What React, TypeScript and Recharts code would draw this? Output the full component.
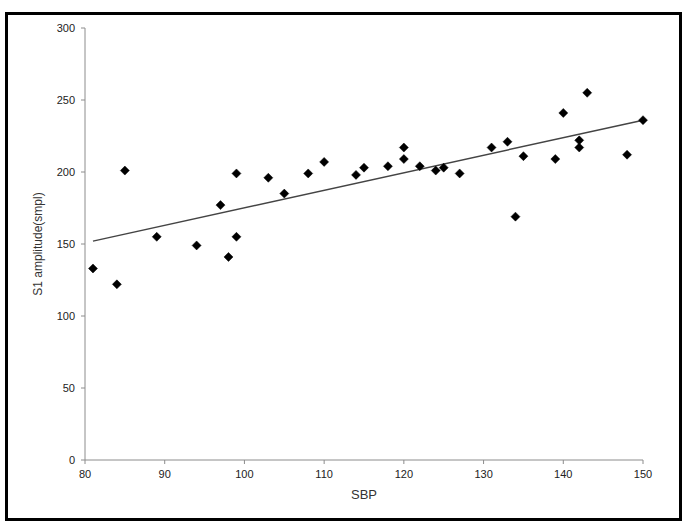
import React from "react";
import { ScatterChart, Scatter, XAxis, YAxis, Label } from "recharts";

const sbp = [81, 84, 85, 89, 94, 97, 98, 99, 99, 103, 105, 108, 110, 114, 115, 118, 120, 120, 122, 124, 125, 127, 131, 133, 134, 135, 139, 140, 142, 142, 143, 148, 150];
const amplitude = [133, 122, 201, 155, 149, 177, 141, 199, 155, 196, 185, 199, 207, 198, 203, 204, 217, 209, 204, 201, 203, 199, 217, 221, 169, 211, 209, 241, 222, 217, 255, 212, 236];
const trendX = [81, 150];
const trendY = [152, 236];
const xTicks = [80, 90, 100, 110, 120, 130, 140, 150];
const yTicks = [0, 50, 100, 150, 200, 250, 300];

const points = sbp.map((x, i) => ({ x, y: amplitude[i] }));
const trend = trendX.map((x, i) => ({ x, y: trendY[i] }));

const Diamond = (props: any) => {
  const { cx, cy } = props;
  if (cx == null || cy == null) return <g />;
  const r = 4.5;
  return (
    <polygon
      points={`${cx},${cy - r} ${cx + r},${cy} ${cx},${cy + r} ${cx - r},${cy}`}
      fill="#000"
      stroke="#000"
      strokeWidth={0.5}
      strokeLinejoin="round"
    />
  );
};

const Empty = () => <g />;

const tickStyle = { fontSize: 11, fill: "#222", fontFamily: "Liberation Sans, Arial, sans-serif" };

export default function App() {
  return (
    <div style={{ position: "absolute", left: 0, top: 0, width: 690, height: 525, background: "#fff" }}>
      <div
        style={{
          position: "absolute",
          left: 5,
          top: 12,
          width: 671,
          height: 503,
          border: "3px solid #000",
        }}
      />
      <div style={{ position: "absolute", left: 0, top: 0 }}>
        <ScatterChart width={690} height={525} margin={{ top: 28, right: 47, bottom: 0, left: 0 }}>
          <XAxis
            type="number"
            dataKey="x"
            domain={[80, 150]}
            ticks={xTicks}
            height={65}
            stroke="#8c8c8c"
            tickSize={4}
            tickMargin={6}
            tick={tickStyle}
          >
            <Label
              value="SBP"
              position="insideBottom"
              offset={26}
              style={{ fontSize: 13, fill: "#333", fontFamily: "Liberation Sans, Arial, sans-serif" }}
            />
          </XAxis>
          <YAxis
            type="number"
            dataKey="y"
            domain={[0, 300]}
            ticks={yTicks}
            width={85}
            stroke="#8c8c8c"
            tickSize={4}
            tickMargin={6}
            tick={tickStyle}
          >
            <Label
              value="S1 amplitude(smpl)"
              angle={-90}
              position="insideLeft"
              offset={38}
              style={{ textAnchor: "middle", fontSize: 12, fill: "#333", fontFamily: "Liberation Sans, Arial, sans-serif" }}
            />
          </YAxis>
          <Scatter
            data={trend}
            line={{ stroke: "#444", strokeWidth: 1.5 }}
            shape={Empty}
            isAnimationActive={false}
          />
          <Scatter data={points} shape={Diamond} fill="#000" isAnimationActive={false} />
        </ScatterChart>
      </div>
    </div>
  );
}
